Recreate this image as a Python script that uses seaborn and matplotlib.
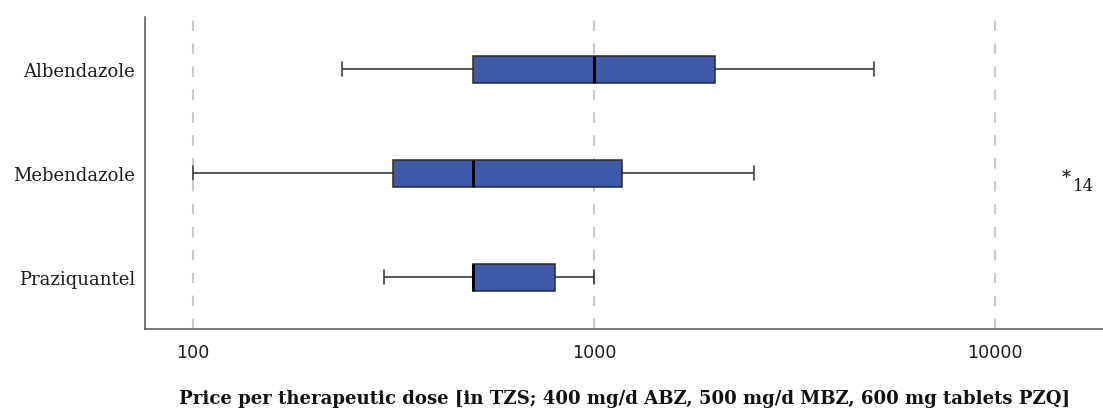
import numpy as np
import pandas as pd
import matplotlib
matplotlib.use("Agg")
import matplotlib.pyplot as plt
import seaborn as sns
from matplotlib.ticker import FixedLocator, NullLocator

# Price per therapeutic dose (TZS) observed at outlets, per drug
drugs = ["Albendazole", "Mebendazole", "Praziquantel"]
albendazole = [235, 500, 500, 1000, 2000, 2000, 5000]
mebendazole = [100, 315, 315, 500, 500, 1175, 1175, 2500, 15000]
praziquantel = [300, 500, 500, 500, 800, 800, 1000]
outlier_case = "14"          # case number of the extreme Mebendazole price
x_ticks = [100, 1000, 10000]
x_tick_labels = ["100", "1000", "10000"]
x_label = "Price per therapeutic dose [in TZS; 400 mg/d ABZ, 500 mg/d MBZ, 600 mg tablets PZQ]"

df = pd.DataFrame({
    "drug": ["Albendazole"] * len(albendazole)
    + ["Mebendazole"] * len(mebendazole)
    + ["Praziquantel"] * len(praziquantel),
    "price": albendazole + mebendazole + praziquantel,
})

sns.set_theme(style="white")
plt.rcParams["font.family"] = ["DejaVu Serif", "DejaVu Sans"]

BOX_BLUE = "#3F5AA8"
EDGE = "#2b2b2b"

fig = plt.figure(figsize=(11.03, 4.10), dpi=100)
ax = fig.add_axes([0.1315, 0.195, 0.8685, 0.761])

sns.boxplot(
    data=df, x="price", y="drug", order=drugs, orient="h",
    log_scale=True, width=0.26, color=BOX_BLUE, saturation=1,
    linecolor=EDGE, linewidth=1.1,
    medianprops=dict(color="black", linewidth=2.2),
    flierprops=dict(marker="$*$", markersize=6, markeredgewidth=0.2,
                    markerfacecolor="#222222", markeredgecolor="#222222"),
    ax=ax,
)

# label the extreme point with its case number
out_val = max(mebendazole)
ax.annotate(outlier_case, xy=(out_val, drugs.index("Mebendazole")),
            xytext=(5, -9), textcoords="offset points",
            fontsize=12, family="DejaVu Serif", color="#111111", va="center")

ax.set_xlim(75.9, 18580)
ax.set_ylim(2.5, -0.5)

ax.xaxis.set_major_locator(FixedLocator(x_ticks))
ax.xaxis.set_minor_locator(NullLocator())
ax.set_xticklabels(x_tick_labels, family="DejaVu Sans", fontsize=12.6, color="#1a1a1a")
ax.tick_params(axis="x", length=0, pad=10)
ax.tick_params(axis="y", length=0, pad=7, labelsize=13, labelcolor="#1a1a1a")

for v in x_ticks:
    ax.axvline(v, color="#c8c8c8", linewidth=1.5, linestyle=(0, (5, 6)), zorder=0)
ax.set_axisbelow(True)

for side in ["top", "right"]:
    ax.spines[side].set_visible(False)
for side in ["left", "bottom"]:
    ax.spines[side].set_color("#555555")
    ax.spines[side].set_linewidth(1.1)

ax.set_ylabel("")
ax.set_xlabel(x_label, fontsize=13.1, fontweight="bold", color="#111111", labelpad=20)

fig.savefig("out.png", dpi=100)
